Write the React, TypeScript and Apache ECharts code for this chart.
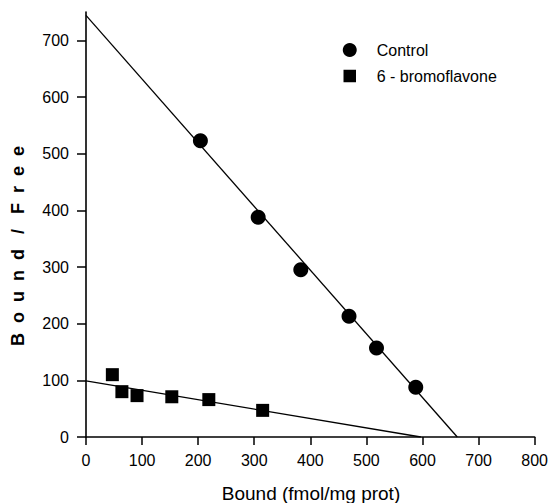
import React, { useEffect, useRef } from "react";
import * as echarts from "echarts";

// Scatchard plot data (Bound fmol/mg prot, Bound/Free)
const controlBound = [204, 307, 383, 469, 518, 588];
const controlRatio = [523, 388, 295, 213, 157, 88];
const bromoBound = [47, 64, 91, 153, 219, 315];
const bromoRatio = [110, 80, 73, 71, 66, 47];
// regression lines: [x, y] endpoints
const controlFit = [[0, 744], [662, 0]];
const bromoFit = [[0, 99], [597, 0]];
const yTicks = [0, 100, 200, 300, 400, 500, 600, 700];
const seriesNames = ["Control", "6 - bromoflavone"];

const FONT = "'Liberation Sans', Arial, Helvetica, sans-serif";

export default function App() {
  const ref = useRef<HTMLDivElement>(null);
  useEffect(() => {
    if (!ref.current) return;
    const chart = echarts.init(ref.current, undefined, { renderer: "svg" });
    const controlData = controlBound.map((x, i) => [x, controlRatio[i]]);
    const bromoData = bromoBound.map((x, i) => [x, bromoRatio[i]]);
    chart.setOption({
      animation: false,
      backgroundColor: "#ffffff",
      textStyle: { fontFamily: FONT, color: "#000" },
      grid: { left: 86, right: 15, top: 12, bottom: 66, containLabel: false },
      legend: {
        orient: "vertical",
        left: 337,
        top: 37,
        itemWidth: 14,
        itemHeight: 14,
        itemGap: 10,
        data: [
          { name: seriesNames[0], icon: "circle", itemStyle: { opacity: 1 } },
          { name: seriesNames[1], icon: "rect", itemStyle: { opacity: 1, borderWidth: 1.5, borderColor: "#fff" } },
        ],
        textStyle: { fontSize: 16, color: "#000", fontFamily: FONT, padding: [0, 0, 0, 15] },
      },
      xAxis: {
        type: "value",
        min: 0,
        max: 800,
        interval: 100,
        splitLine: { show: false },
        axisLine: { onZero: false, lineStyle: { color: "#000", width: 1.6 } },
        axisTick: { show: true, length: 8, inside: false, lineStyle: { color: "#000", width: 1.5 } },
        axisLabel: { fontSize: 16, color: "#000", fontFamily: FONT, margin: 15 },
      },
      yAxis: {
        type: "value",
        min: 0,
        max: 750,
        splitLine: { show: false },
        axisLine: { onZero: false, lineStyle: { color: "#000", width: 1.6 } },
        axisTick: { show: true, length: 9, inside: false, lineStyle: { color: "#000", width: 1.5 }, customValues: yTicks },
        axisLabel: { fontSize: 16, color: "#000", fontFamily: FONT, margin: 17, customValues: yTicks },
      },
      graphic: [
        {
          type: "text",
          x: 311,
          y: 493,
          style: {
            text: "Bound (fmol/mg prot)",
            font: `19px ${FONT}`,
            fill: "#000",
            textAlign: "center",
            textVerticalAlign: "middle",
          },
        },
        {
          type: "text",
          x: 18,
          y: 246,
          rotation: Math.PI / 2,
          style: {
            text: "B  o  u  n  d   /   F  r  e  e",
            font: `bold 18px ${FONT}`,
            fill: "#000",
            textAlign: "center",
            textVerticalAlign: "middle",
          },
        },
      ],
      series: [
        {
          name: seriesNames[0],
          type: "scatter",
          symbol: "circle",
          symbolSize: 15,
          itemStyle: { color: "#000", opacity: 1 },
          data: controlData,
          z: 3,
        },
        {
          name: seriesNames[1],
          type: "scatter",
          symbol: "rect",
          symbolSize: 13,
          itemStyle: { color: "#000", opacity: 1 },
          data: bromoData,
          z: 3,
        },
        {
          name: "controlFit",
          type: "line",
          data: controlFit,
          symbol: "none",
          lineStyle: { color: "#000", width: 1.3 },
          z: 2,
        },
        {
          name: "bromoFit",
          type: "line",
          data: bromoFit,
          symbol: "none",
          lineStyle: { color: "#000", width: 1.3 },
          z: 2,
        },
      ],
    });
    return () => chart.dispose();
  }, []);
  return (
    <div
      ref={ref}
      style={{ position: "absolute", left: 0, top: 0, width: 551, height: 503 }}
    />
  );
}
